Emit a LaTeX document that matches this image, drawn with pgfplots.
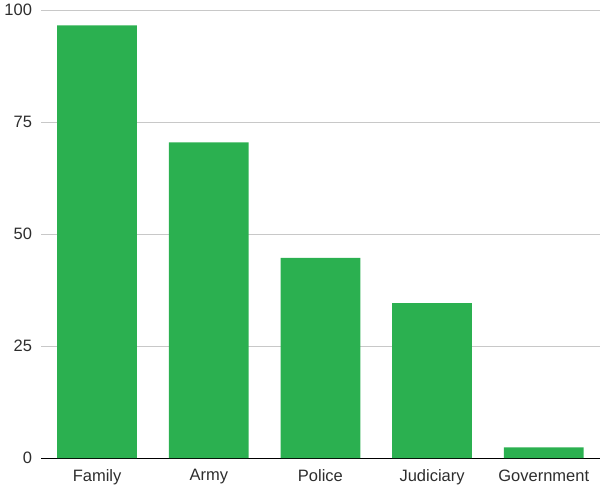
\documentclass[border=0pt]{standalone}
\usepackage{pgfplots}
\pgfplotsset{compat=1.18}
\usepackage{fontspec}
\setmainfont{Liberation Sans}
\definecolor{bargreen}{RGB}{43,176,80}
\definecolor{labelgray}{RGB}{45,45,45}
\definecolor{gridgray}{RGB}{200,200,200}

\begin{document}
\begin{tikzpicture}
\begin{axis}[
    scale only axis,
    width=420pt, height=337pt,
    xmin=-0.5, xmax=4.5,
    ymin=0, ymax=100,
    ybar, bar width=60pt,
    axis x line*=bottom,
    axis y line*=left,
    y axis line style={draw=none},
    x axis line style={black, line width=0.6pt, -},
    major tick length=0pt,
    ymajorgrids,
    grid style={gridgray, line width=0.5pt},
    ytick={0,25,50,75,100},
    xtick={0,1,2,3,4},
    xticklabels={Family,Army,Police,Judiciary,Government},
    /pgf/number format/assume math mode=true,
    tick label style={font=\fontsize{12.4}{14}\selectfont, text=labelgray},
    yticklabel style={xshift=-3.5pt},
    xticklabel style={yshift=-5pt},
]
\addplot[fill=bargreen, draw=none] coordinates {
    (0,96.6) (1,70.5) (2,44.7) (3,34.6) (4,2.4)
};
\end{axis}
\end{tikzpicture}
\end{document}
